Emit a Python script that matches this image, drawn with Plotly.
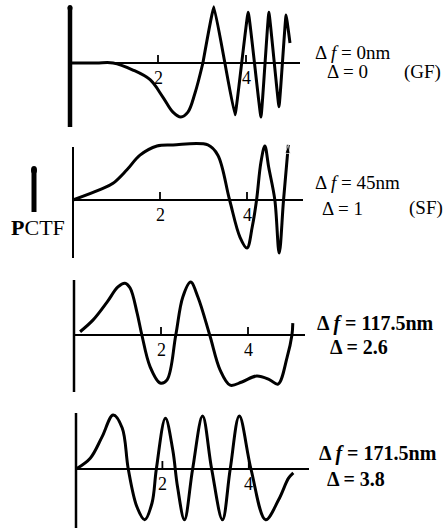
import plotly.graph_objects as go

W, H = 444, 531

# ---- data (spatial frequency units, relative PCTF amplitude) ----
gf_x = [0, 0.6, 0.98, 1.43, 1.82, 2.11, 2.34, 2.52, 2.68, 2.84, 3.02, 3.27, 3.52, 3.75, 4.05, 4.34, 4.52, 4.75, 4.91, 5.0]
gf_y = [0, 0, 0, -0.13, -0.31, -0.63, -0.91, -1.0, -0.91, -0.56, 0, 1.04, 0, -0.96, 0.94, -1.0, 0.94, -0.81, 0.89, 0.37]
gf_split = 10  # smooth part up to x=3.02, zigzag afterwards

sf_x = [0, 0.62, 0.92, 1.24, 1.54, 1.93, 2.3, 3.1, 3.33, 3.6, 3.84, 4.0, 4.12, 4.22, 4.32, 4.41, 4.5, 4.64, 4.74, 4.84, 4.95]
sf_y = [0, 0.19, 0.31, 0.56, 0.83, 1.0, 1.02, 1.02, 0.83, 0, -0.69, -0.89, -0.5, 0, 0.7, 1.0, 0.6, 0, -0.98, 0, 1.02]

d26_x = [0.14, 0.44, 0.76, 1.01, 1.17, 1.29, 1.45, 1.56, 1.75, 1.98, 2.14, 2.34, 2.5, 2.68, 2.85, 3.12, 3.36, 3.59, 3.86, 4.2, 4.5, 4.69, 4.9, 5.01, 5.03]
d26_y = [0.06, 0.28, 0.61, 0.89, 0.96, 0.87, 0.41, 0, -0.59, -0.89, -0.83, 0, 0.70, 0.98, 0.70, 0, -0.65, -0.93, -0.87, -0.76, -0.83, -0.91, -0.41, 0, 0.22]

d38_x = [0, 0.33, 0.6, 0.86, 1.07, 1.21, 1.41, 1.59, 1.76, 1.86, 2.07, 2.24, 2.35, 2.51, 2.7, 2.93, 3.14, 3.39, 3.57, 3.78, 4.05, 4.39, 4.69, 4.92, 5.03]
d38_y = [0, 0.2, 0.59, 1.0, 0.76, 0, -0.70, -0.94, -0.63, 0, 0.94, 0.35, -0.33, -0.94, 0, 0.98, 0, -0.94, 0, 0.98, 0, -0.94, -0.57, -0.17, -0.07]

tick_vals = [2, 4]
tick_text = ["2", "4"]

label_df = ["Δ <i>f</i> = 0nm", "Δ <i>f</i> = 45nm", "<b>Δ <i>f</i> = 117.5nm</b>", "<b>Δ <i>f</i> = 171.5nm</b>"]
label_delta = ["Δ = 0", "Δ = 1", "<b>Δ = 2.6</b>", "<b>Δ = 3.8</b>"]
label_kind = ["(GF)", "(SF)", "", ""]
y_label = "<b>P</b>CTF"

# ---- layout geometry (pixels) ----
panels = [
    dict(x=gf_x, y=gf_y, x0=70, sx=44.0, base=63, sy=54, top=7, bot=127, xend=300, dom=(0, 134), axw=4.5,
         df=(313, 52), dl=(325, 72), kd=(402, 72), fs=19),
    dict(x=sf_x, y=sf_y, x0=73, sx=43.5, base=200, sy=54, top=147, bot=258, xend=303, dom=(136, 266), axw=2,
         df=(313, 182), dl=(320, 208), kd=(407, 208), fs=19),
    dict(x=d26_x, y=d26_y, x0=74, sx=43.5, base=335, sy=54, top=280, bot=392, xend=305, dom=(270, 400), axw=2.5,
         df=(315, 323), dl=(328, 347), kd=(0, 0), fs=20),
    dict(x=d38_x, y=d38_y, x0=76, sx=43.2, base=469, sy=54, top=413, bot=528, xend=309, dom=(404, 531), axw=2.5,
         df=(317, 453), dl=(325, 479), kd=(0, 0), fs=20),
]

XL, XR = 40, 310
fig = go.Figure()
shapes, annos = [], []
font_family = "Liberation Serif, Times New Roman, serif"
line_style = dict(color="black", width=3)

for i, p in enumerate(panels):
    n = "" if i == 0 else str(i + 1)
    xa, ya = "x" + n, "y" + n
    dtop, dbot = p["dom"]
    fig.layout["xaxis" + n] = dict(domain=[XL / W, XR / W], range=[(XL - p["x0"]) / p["sx"], (XR - p["x0"]) / p["sx"]],
                                   visible=False, anchor=ya, fixedrange=True)
    fig.layout["yaxis" + n] = dict(domain=[1 - dbot / H, 1 - dtop / H],
                                   range=[(p["base"] - dbot) / p["sy"], (p["base"] - dtop) / p["sy"]],
                                   visible=False, anchor=xa, fixedrange=True)
    npts = len(p["x"])
    if i == 0:
        fig.add_trace(go.Scatter(x=p["x"][:gf_split + 1], y=p["y"][:gf_split + 1], xaxis=xa, yaxis=ya, mode="lines",
                                 line=dict(shape="spline", smoothing=1.0, **line_style),
                                 hoverinfo="skip", showlegend=False))
        fig.add_trace(go.Scatter(x=p["x"][gf_split:], y=p["y"][gf_split:], xaxis=xa, yaxis=ya, mode="lines",
                                 line=dict(shape="spline", smoothing=0.25, **line_style),
                                 hoverinfo="skip", showlegend=False))
    elif i == 1:
        fig.add_trace(go.Scatter(x=p["x"], y=p["y"], xaxis=xa, yaxis=ya, mode="lines+markers",
                                 line=dict(shape="spline", smoothing=1.0, **line_style),
                                 marker=dict(symbol="arrow", angleref="previous", color="black",
                                             size=[0] * (npts - 1) + [9]),
                                 hoverinfo="skip", showlegend=False))
    else:
        fig.add_trace(go.Scatter(x=p["x"], y=p["y"], xaxis=xa, yaxis=ya, mode="lines",
                                 line=dict(shape="spline", smoothing=1.0, **line_style),
                                 hoverinfo="skip", showlegend=False))
    yb = (p["base"] - p["bot"]) / p["sy"]
    yt = (p["base"] - p["top"]) / p["sy"]
    xe = (p["xend"] - p["x0"]) / p["sx"]
    shapes.append(dict(type="line", xref=xa, yref=ya, x0=0, x1=0, y0=yb, y1=yt,
                       line=dict(color="black", width=p["axw"])))
    shapes.append(dict(type="line", xref=xa, yref=ya, x0=0, x1=xe, y0=0, y1=0,
                       line=dict(color="black", width=2)))
    for tv, tt in zip(tick_vals, tick_text):
        shapes.append(dict(type="line", xref=xa, yref=ya, x0=tv, x1=tv, y0=0, y1=8 / p["sy"],
                           line=dict(color="black", width=1.8)))
        annos.append(dict(xref=xa, yref=ya, x=tv, y=0, text=tt, showarrow=False, yanchor="top", yshift=-3,
                          font=dict(family=font_family, size=18, color="black")))
    annos.append(dict(xref="paper", yref="paper", x=p["df"][0] / W, y=1 - p["df"][1] / H, text=label_df[i],
                      showarrow=False, xanchor="left", yanchor="middle",
                      font=dict(family=font_family, size=p["fs"], color="black")))
    annos.append(dict(xref="paper", yref="paper", x=p["dl"][0] / W, y=1 - p["dl"][1] / H, text=label_delta[i],
                      showarrow=False, xanchor="left", yanchor="middle",
                      font=dict(family=font_family, size=p["fs"], color="black")))
    if label_kind[i]:
        annos.append(dict(xref="paper", yref="paper", x=p["kd"][0] / W, y=1 - p["kd"][1] / H, text=label_kind[i],
                          showarrow=False, xanchor="left", yanchor="middle",
                          font=dict(family=font_family, size=19, color="black")))

# blob at top of first axis
shapes.append(dict(type="circle", xref="paper", yref="paper", x0=67.5 / W, x1=72.5 / W,
                   y0=1 - 11 / H, y1=1 - 5 / H, fillcolor="black", line=dict(width=0)))
# PCTF indicator bar
shapes.append(dict(type="line", xref="paper", yref="paper", x0=34 / W, x1=34 / W, y0=1 - 212 / H, y1=1 - 170 / H,
                   line=dict(color="black", width=5)))
shapes.append(dict(type="circle", xref="paper", yref="paper", x0=31 / W, x1=37 / W,
                   y0=1 - 174 / H, y1=1 - 166 / H, fillcolor="black", line=dict(width=0)))
annos.append(dict(xref="paper", yref="paper", x=38 / W, y=1 - 227 / H, text=y_label, showarrow=False,
                  xanchor="center", yanchor="middle", font=dict(family=font_family, size=22, color="black")))

fig.update_layout(width=W, height=H, autosize=False, margin=dict(l=0, r=0, t=0, b=0),
                  paper_bgcolor="white", plot_bgcolor="white", shapes=shapes, annotations=annos,
                  showlegend=False)
fig.write_html("out.html", config={"displayModeBar": False},
               post_script="document.body.style.margin='0px';document.documentElement.style.overflow='hidden';")
